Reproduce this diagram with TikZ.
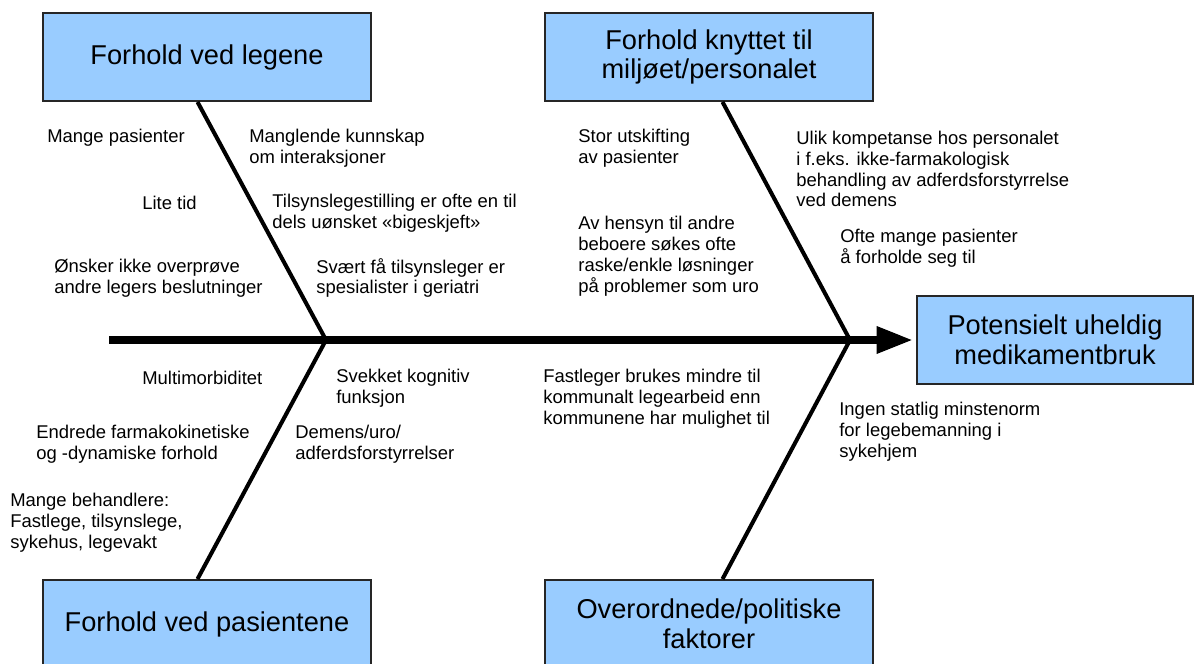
\documentclass[tikz,border=0pt]{standalone}
\usepackage{fontspec}
\setmainfont{Liberation Sans}
\usetikzlibrary{arrows.meta, positioning}
\definecolor{boxblue}{RGB}{153,204,255}
\tikzset{
  cause/.style={draw=black!85, line width=1.1pt, fill=boxblue, minimum width=6.56cm,
    minimum height=1.76cm, inner sep=0pt, align=center, font=\fontsize{15.5}{17}\selectfont},
  note/.style={anchor=west, align=left, inner sep=0pt, font=\fontsize{10.5}{11.9}\selectfont},
  bone/.style={line width=2.3pt},
  spine/.style={line width=5.1pt, -{Triangle[length=0.74cm,width=0.5cm]}, shorten >=0.05cm}
}

\begin{document}
\begin{tikzpicture}[x=0.02cm, y=-0.02cm]
  \useasboundingbox (0,0) rectangle (1197,663);

  % hovedgrupper
  \node[cause] (legene) at (207,57) {Forhold ved legene};
  \node[cause] (miljo) at (709,57) {Forhold knyttet til\\miljøet/personalet};
  \node[cause] (pasient) at (207,624) {Forhold ved pasientene};
  \node[cause] (politisk) at (709,624) {Overordnede/politiske\\faktorer};
  \node[cause, minimum width=5.52cm] (effekt) at (1055,340) {Potensielt uheldig\\medikamentbruk};

  % ryggrad og bein
  \coordinate (hale) at (109,340);
  \coordinate (ledd1) at (326,340);
  \coordinate (ledd2) at (850,340);
  \draw[spine] (hale) -- (effekt.west);
  \draw[bone] ([xshift=-0.19cm]legene.south) -- (ledd1);
  \draw[bone] ([xshift=0.27cm]miljo.south) -- (ledd2);
  \draw[bone] (ledd1) -- ([xshift=-0.19cm]pasient.north);
  \draw[bone] (ledd2) -- ([xshift=0.27cm]politisk.north);

  % legene
  \node[note] (mangepas) at (47,138) {Mange pasienter};
  \node[note] (kunnskap) at (249,148) {Manglende kunnskap\\om interaksjoner};
  \node[note] (tid) at (142,203) {Lite tid};
  \node[note] (bigeskjeft) at (272,213) {Tilsynslegestilling er ofte en til\\dels uønsket «bigeskjeft»};
  \node[note] (overprove) at (54,278) {Ønsker ikke overprøve\\andre legers beslutninger};
  \node[note] (geriatri) at (316,278) {Svært få tilsynsleger er\\spesialister i geriatri};

  % miljøet/personalet
  \node[note] (utskifting) at (578,148) {Stor utskifting\\av pasienter};
  \node[note] (hensyn) at (578,256) {Av hensyn til andre\\beboere søkes ofte\\raske/enkle løsninger\\på problemer som uro};
  \node[note] (kompetanse) at (796,169) {Ulik kompetanse hos personalet\\i f.eks. ikke-farmakologisk\\behandling av adferdsforstyrrelse\\ved demens};
  \node[note] (forholde) at (840,248) {Ofte mange pasienter\\å forholde seg til};

  % pasientene
  \node[note] (multi) at (142,378) {Multimorbiditet};
  \node[note] (kognitiv) at (336,388) {Svekket kognitiv\\funksjon};
  \node[note] (kinetikk) at (36,444) {Endrede farmakokinetiske\\og -dynamiske forhold};
  \node[note] (demens) at (295,444) {Demens/uro/\\adferdsforstyrrelser};
  \node[note] (behandlere) at (10,523) {Mange behandlere:\\Fastlege, tilsynslege,\\sykehus, legevakt};

  % overordnede/politiske
  \node[note] (fastleger) at (543,399) {Fastleger brukes mindre til\\kommunalt legearbeid enn\\kommunene har mulighet til};
  \node[note] (minstenorm) at (839,432) {Ingen statlig minstenorm\\for legebemanning i\\sykehjem};
\end{tikzpicture}
\end{document}
